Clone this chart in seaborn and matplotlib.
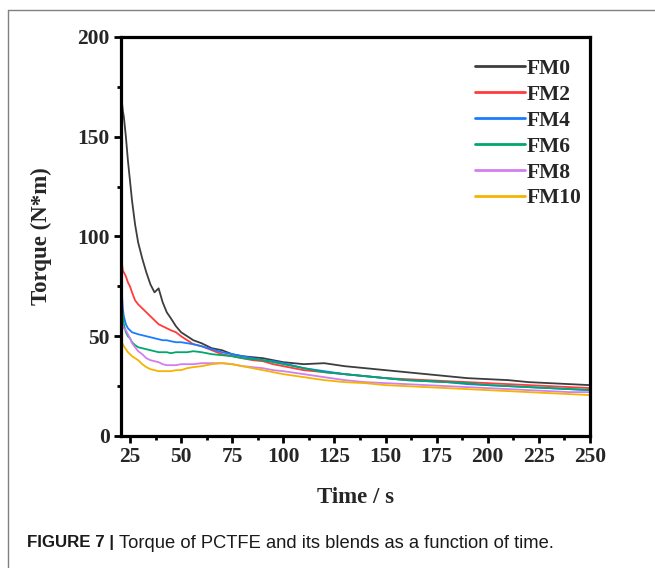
import pandas as pd
import seaborn as sns
import matplotlib.pyplot as plt
from matplotlib.lines import Line2D
from matplotlib.ticker import MultipleLocator

# time grid (s)
time_s = [20.6, 21, 21.5, 22, 23, 24, 25, 26, 27.5, 29, 31, 33, 35, 37, 39, 41,
          43, 45, 47.5, 50, 53, 56, 60, 65, 70, 75, 80, 85, 90, 95, 100, 110,
          120, 130, 140, 150, 160, 170, 180, 190, 200, 210, 220, 230, 240, 250]

fm0 = [177, 168, 163, 160, 150, 138, 128, 118, 106, 97, 89, 82, 76, 72, 74, 67,
       62, 59, 55, 52, 50, 48, 46.5, 44, 43, 41, 40, 39.5, 39, 38, 37, 36,
       36.5, 35, 34, 33, 32, 31, 30, 29, 28.5, 28, 27, 26.5, 26, 25.5]
fm2 = [85, 87, 83, 82, 80, 77, 75, 72, 68, 66, 64, 62, 60, 58, 56, 55,
       54, 53, 52, 50, 48, 46, 45, 43, 41, 40, 39, 38, 37.5, 36, 35, 33,
       32, 31, 30, 29, 28.5, 28, 27.5, 27, 26.5, 26, 25.5, 25, 24.5, 24]
fm4 = [75, 72, 64, 60, 56, 54, 53, 52, 51.5, 51, 50.5, 50, 49.5, 49, 48.5, 48,
       48, 47.5, 47, 47, 46.5, 46, 45, 43.5, 42, 41, 40, 39, 38, 37.5, 36.5, 34,
       32.5, 31, 30, 29, 28, 27.5, 27, 26, 25.5, 25, 24.5, 24, 23.5, 23]
fm6 = [70, 66, 60, 56, 52, 50, 49, 47, 45.5, 44.5, 44, 43.5, 43, 42.5, 42, 42,
       42, 41.5, 42, 42, 42, 42.5, 42, 41, 40.5, 40, 39, 38.5, 38, 37, 36, 34,
       32, 31, 30, 29, 28, 27.5, 27, 26.5, 25.5, 25, 24.5, 24, 23.5, 23]
fm8 = [62, 58, 55, 54, 53, 51, 49, 46.5, 44.5, 42.5, 41, 39, 38, 37.5, 37, 36,
       35.5, 35.5, 35.5, 36, 36, 36, 36.5, 36.5, 36.5, 36, 35, 34.5, 34, 33, 32.5, 31,
       29.5, 28, 27, 26.5, 26, 25.5, 25, 24.5, 24, 23.5, 23, 22.5, 22, 22]
fm10 = [48, 47, 46, 45, 43.5, 42, 41, 40, 39, 38, 36, 34.5, 33.5, 33, 32.5, 32.5,
        32.5, 32.5, 33, 33, 34, 34.5, 35, 36, 36.5, 36, 35, 34, 33, 32, 31, 29.5,
        28, 27, 26.5, 25.5, 25, 24.5, 24, 23.5, 23, 22.5, 22, 21.5, 21, 20.5]

series = {"FM0": fm0, "FM2": fm2, "FM4": fm4, "FM6": fm6, "FM8": fm8, "FM10": fm10}
colors = {"FM0": "#3d3d3d", "FM2": "#ff3b3b", "FM4": "#1a7cff",
          "FM6": "#00a86b", "FM8": "#d27ef0", "FM10": "#f5b400"}

data = pd.concat(
    [pd.DataFrame({"time": time_s, "torque": vals, "sample": name})
     for name, vals in series.items()],
    ignore_index=True,
)

sns.set_theme(style="white")
plt.rcParams["font.family"] = ["Liberation Serif", "DejaVu Serif"]

fig = plt.figure(figsize=(6.55, 5.68), dpi=100)
ax = fig.add_axes([0.1847, 0.2324, 0.716, 0.7025])

sns.lineplot(data=data, x="time", y="torque", hue="sample", palette=colors,
             estimator=None, linewidth=1.3, ax=ax)

ax.set_xlim(20.6, 250)
ax.set_ylim(0, 200)
ax.xaxis.set_major_locator(MultipleLocator(25))
ax.xaxis.set_minor_locator(MultipleLocator(12.5))
ax.yaxis.set_major_locator(MultipleLocator(50))
ax.yaxis.set_minor_locator(MultipleLocator(25))
ax.tick_params(which="both", direction="out", width=2, color="black",
               top=False, right=False, bottom=True, left=True)
ax.tick_params(which="major", length=5, labelsize=15.5, pad=3)
ax.tick_params(which="minor", length=3)
for lab in ax.get_xticklabels() + ax.get_yticklabels():
    lab.set_fontweight("bold")
for sp in ax.spines.values():
    sp.set_visible(True)
    sp.set_linewidth(2.3)
    sp.set_color("black")

ax.set_xlabel("Time / s", fontsize=16.5, fontweight="bold", labelpad=14)
ax.set_ylabel("Torque (N*m)", fontsize=16.5, fontweight="bold", labelpad=18)

leg = ax.legend(loc="upper left", bbox_to_anchor=(0.755, 0.945), frameon=False,
                handlelength=2.3, handletextpad=0.08, labelspacing=0.27,
                borderpad=0, borderaxespad=0,
                prop={"family": "Liberation Serif", "weight": "bold", "size": 15.5})
for h in leg.get_lines():
    h.set_linewidth(2)

# page frame lines (top and left)
fig.add_artist(Line2D([8 / 655, 8 / 655], [0, 1 - 10 / 568],
                      transform=fig.transFigure, color="#808080", lw=1))
fig.add_artist(Line2D([8 / 655, 1], [1 - 10 / 568, 1 - 10 / 568],
                      transform=fig.transFigure, color="#808080", lw=1))

# caption
cap_y = 1 - 543 / 568
fig.text(27 / 655, cap_y, "FIGURE 7 |", fontsize=12.2, fontweight="bold",
         family=["Liberation Sans", "DejaVu Sans"], va="center", color="#1a1a1a")
fig.text(119 / 655, cap_y, "Torque of PCTFE and its blends as a function of time.",
         fontsize=13.2, family=["Liberation Sans", "DejaVu Sans"], va="center",
         color="#1a1a1a")

fig.savefig("out.png", dpi=100)
